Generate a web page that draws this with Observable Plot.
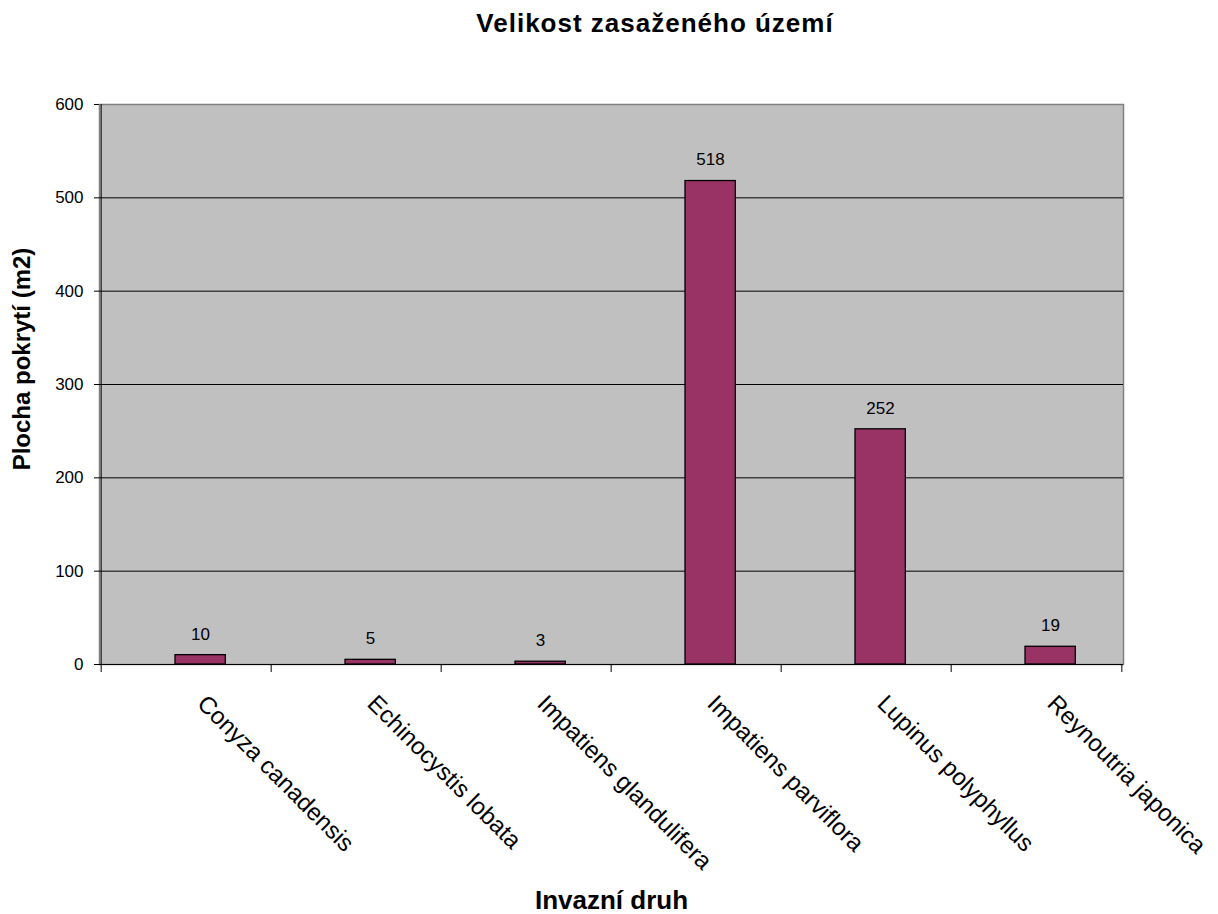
<!DOCTYPE html>
<html>
<head>
<meta charset="utf-8">
<script src="https://cdn.jsdelivr.net/npm/d3@7"></script>
<script src="https://cdn.jsdelivr.net/npm/@observablehq/plot@0.6"></script>
<style>
  html, body { margin: 0; padding: 0; background: #fff; }
  #chart { width: 1218px; font-family: "Liberation Sans", Arial, sans-serif; }
  #title {
    position: relative; height: 60px; box-sizing: border-box; padding-top: 8px;
    font-size: 26px; font-weight: bold; line-height: 30px; letter-spacing: 1px; color: #000;
  }
  #title span { position: absolute; left: 655px; transform: translateX(-50%); white-space: nowrap; }
  svg { display: block; }
  g[aria-label="y-axis tick label"] text { font-size: 17px; }
</style>
</head>
<body>
<div id="chart">
  <div id="title"><span>Velikost zasaženého území</span></div>
</div>
<script>
// Invasive species and the area they cover (m²)
const categories = [
  "Conyza canadensis",
  "Echinocystis lobata",
  "Impatiens glandulifera",
  "Impatiens parviflora",
  "Lupinus polyphyllus",
  "Reynoutria japonica"
];
const areas = [10, 5, 3, 518, 252, 19];
const yTicks = [0, 100, 200, 300, 400, 500, 600];
const gridTicks = [100, 200, 300, 400, 500];

const data = categories.map((name, i) => ({name, area: areas[i]}));

const W = 1218, H = 854;
const mL = 99, mR = 95, mT = 44, mB = 250;
const bw = (W - mL - mR) / categories.length; // width of one category band

const chart = Plot.plot({
  width: W,
  height: H,
  marginTop: mT,
  marginLeft: mL,
  marginRight: mR,
  marginBottom: mB,
  style: {fontFamily: "'Liberation Sans', Arial, sans-serif", fontSize: "17px", color: "#000", background: "#fff"},
  x: {domain: categories, padding: 0, axis: null},
  y: {domain: [0, 600], axis: null},
  marks: [
    Plot.frame({fill: "#c0c0c0", stroke: "#808080", strokeWidth: 1.5}),
    Plot.gridY(gridTicks, {stroke: "#000", strokeOpacity: 1, strokeWidth: 1}),
    Plot.ruleY([0], {stroke: "#000"}),
    Plot.ruleX([categories[0]], {dx: -bw / 2, stroke: "#000"}),
    Plot.barY(data, {
      x: "name", y: "area",
      fill: "#993366", stroke: "#000", strokeWidth: 1.3,
      insetLeft: 74, insetRight: bw - 125
    }),
    Plot.text(data, {x: "name", y: "area", text: d => String(d.area), dx: 14, dy: -21, fontSize: 17}),
    Plot.axisY(yTicks, {tickSize: 5, tickPadding: 11, label: null, fontSize: 17}),
    // category boundary ticks
    Plot.axisX(categories, {tickSize: 8, tickFormat: () => "", dx: -bw / 2, label: null}),
    Plot.axisX([categories[categories.length - 1]], {tickSize: 8, tickFormat: () => "", dx: bw / 2, label: null}),
    // rotated species names
    Plot.axisX(categories, {tickSize: 0, tickPadding: 35, tickRotate: 45, dx: 15, fontSize: 24, label: null}),
    Plot.text(["Plocha pokrytí (m2)"], {
      frameAnchor: "left", textAnchor: "middle", lineAnchor: "middle",
      rotate: -90, dx: -77, dy: -25.5, fontSize: 24, fontWeight: "bold"
    }),
    Plot.text(["Invazní druh"], {
      frameAnchor: "bottom", lineAnchor: "middle", dy: 236, fontSize: 26, fontWeight: "bold"
    })
  ]
});

document.getElementById("chart").appendChild(chart);
</script>
</body>
</html>
